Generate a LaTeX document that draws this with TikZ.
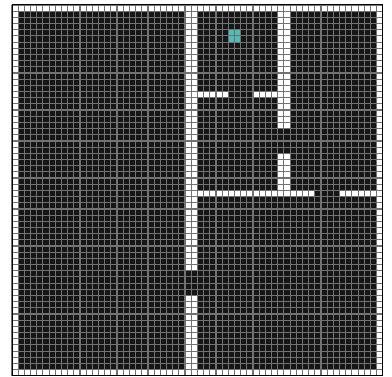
\documentclass[tikz,border=0pt]{standalone}
\definecolor{cellbg}{HTML}{161616}
\definecolor{gridc}{HTML}{727272}
\definecolor{goalc}{HTML}{4DBDB5}
\tikzset{
  wallcell/.style={fill=white},
  goalcell/.style={fill=goalc},
  gridline/.style={draw=gridc, line width=1.15pt},
  framebox/.style={draw=black, line width=1pt}
}
\begin{document}
\begin{tikzpicture}[x=1pt,y=-1pt]
\fill[white] (0,0) rectangle (392,377);
\useasboundingbox (0,0) rectangle (392,377);
\begin{scope}[shift={(12,5)}, x=6.18pt, y=-6.18pt]
  \fill[cellbg] (0,0) rectangle (60,60);
  % outer walls
  \path[wallcell] (0,0) rectangle (60,1);
  \path[wallcell] (0,59) rectangle (60,60);
  \path[wallcell] (0,0) rectangle (1,60);
  \path[wallcell] (59,0) rectangle (60,60);
  % inner walls
  \path[wallcell] (28,1) rectangle (30,43);
  \path[wallcell] (28,47) rectangle (30,59);
  \path[wallcell] (30,14) rectangle (35,15);
  \path[wallcell] (39,14) rectangle (43,15);
  \path[wallcell] (43,1) rectangle (45,20);
  \path[wallcell] (43,24) rectangle (45,30);
  \path[wallcell] (30,30) rectangle (49,31);
  \path[wallcell] (53,30) rectangle (59,31);
  % goal
  \path[goalcell] (35,4) rectangle (37,6);
  % grid
  \foreach \i in {0,...,60} {
    \draw[gridline] (\i,0) -- (\i,60);
    \draw[gridline] (0,\i) -- (60,\i);
  }
  \draw[framebox] (0,0) rectangle (60,60);
\end{scope}
\end{tikzpicture}
\end{document}
